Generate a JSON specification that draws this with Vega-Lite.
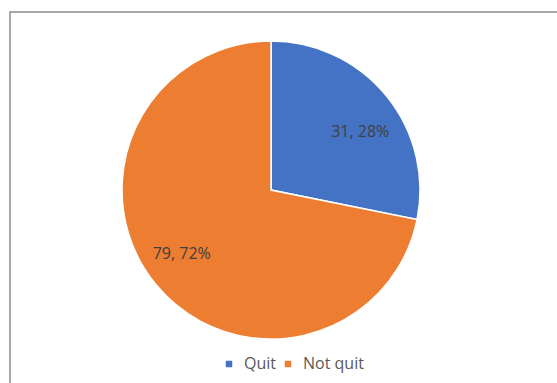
{
  "$schema": "https://vega.github.io/schema/vega-lite/v6.json",
  "width": 557,
  "height": 383,
  "autosize": "none",
  "padding": {"left": 10, "top": 12, "right": 0, "bottom": 0},
  "background": "white",
  "view": {"stroke": "#8c8c8c", "strokeWidth": 1.5},
  "config": {
    "font": "Open Sans"
  },
  "data": {
    "values": [
      {"category": "Quit", "count": 31, "label": "31, 28%"},
      {"category": "Not quit", "count": 79, "label": "79, 72%"}
    ]
  },
  "encoding": {
    "theta": {"field": "count", "type": "quantitative", "stack": true},
    "order": {"field": "order", "type": "quantitative"}
  },
  "transform": [
    {"calculate": "datum.category === 'Quit' ? 0 : 1", "as": "order"}
  ],
  "layer": [
    {
      "mark": {
        "type": "arc",
        "outerRadius": 149,
        "stroke": "white",
        "strokeWidth": 1.5,
        "x": {"expr": "width*0.4686"},
        "y": {"expr": "height*0.4648"}
      },
      "encoding": {
        "color": {
          "field": "category",
          "type": "nominal",
          "sort": ["Quit", "Not quit"],
          "scale": {"domain": ["Quit", "Not quit"], "range": ["#4472C4", "#ED7D31"]},
          "legend": {
            "title": null,
            "orient": "none",
            "direction": "horizontal",
            "legendX": 211,
            "legendY": 344,
            "symbolType": "square",
            "symbolSize": 64,
            "labelFontSize": 16,
            "labelColor": "#595959",
            "labelFont": "Open Sans",
            "columnPadding": 4,
            "symbolOffset": 0,
            "labelOffset": 7
          }
        }
      }
    },
    {
      "mark": {
        "type": "text",
        "radius": 108,
        "thetaOffset": 0.087,
        "dy": 3,
        "fontSize": 16,
        "color": "#404040",
        "x": {"expr": "width*0.4686"},
        "y": {"expr": "height*0.4648"}
      },
      "encoding": {
        "text": {"field": "label", "type": "nominal"}
      }
    }
  ]
}
